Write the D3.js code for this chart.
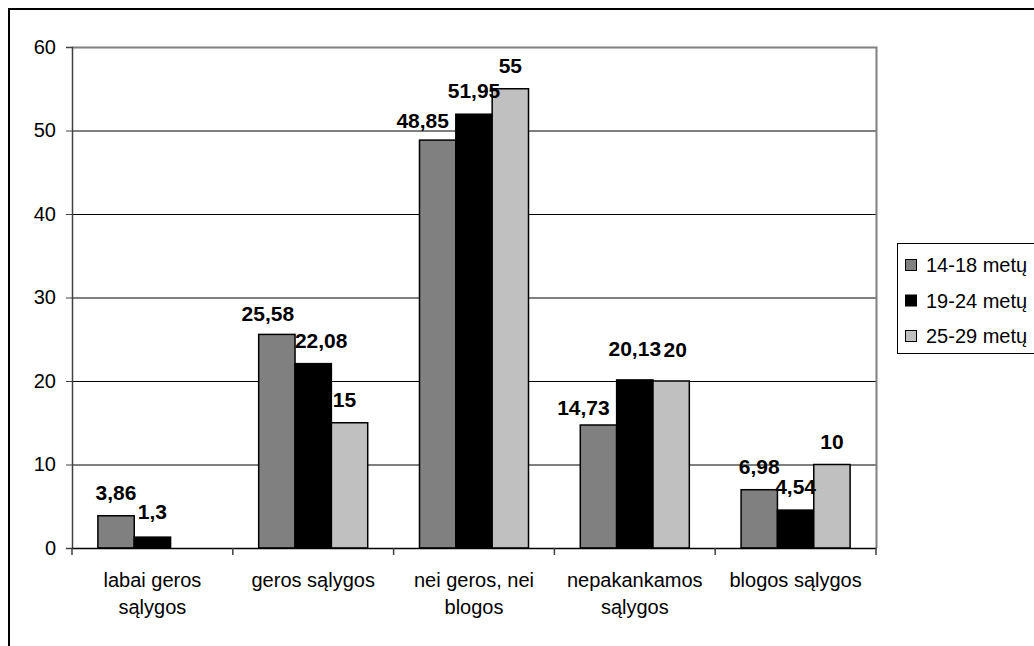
<!DOCTYPE html>
<html>
<head>
<meta charset="utf-8">
<script src="https://cdn.jsdelivr.net/npm/d3@7"></script>
<style>
  html, body { margin: 0; padding: 0; background: #fff; }
  svg { display: block; font-family: "Liberation Sans", Arial, sans-serif; }
</style>
</head>
<body>
<svg id="chart" width="1034" height="646"></svg>
<script>
const categories = ["labai geros sąlygos", "geros sąlygos", "nei geros, nei blogos", "nepakankamos sąlygos", "blogos sąlygos"];
const seriesNames = ["14-18 metų", "19-24 metų", "25-29 metų"];
const s1418 = [3.86, 25.58, 48.85, 14.73, 6.98];
const s1924 = [1.3, 22.08, 51.95, 20.13, 4.54];
const s2529 = [null, 15, 55, 20, 10];
const yTicks = [0, 10, 20, 30, 40, 50, 60];

const seriesValues = [s1418, s1924, s2529];
const colors = ["#808080", "#000000", "#c0c0c0"];
// label nudges mimicking the original's overlap avoidance [series][category] => [dx, dy]
const labelNudge = [
  [[0, 0], [-9, 3], [-15, 4], [-15, 6], [0, 0]],
  [[0, -2], [8, 0], [0, 0], [0, -8], [0, 0]],
  [[0, 0], [-5, 0], [0, 0], [4, -8], [0, 0]]
];

const svg = d3.select("#chart");
const W = 1034, H = 646;
const plot = { left: 72, right: 876, top: 47, bottom: 548 };

// outer frame
svg.append("rect").attr("x", 9).attr("y", 9).attr("width", W + 20).attr("height", H + 20)
  .attr("fill", "none").attr("stroke", "#000").attr("stroke-width", 2);

const x0 = d3.scaleBand().domain(categories).range([plot.left, plot.right]).paddingInner(0).paddingOuter(0);
const x1 = d3.scaleBand().domain(d3.range(seriesNames.length))
  .range([x0.bandwidth() * 0.161, x0.bandwidth() * 0.839]).padding(0);
const y = d3.scaleLinear().domain([0, 60]).range([plot.bottom, plot.top]);

// gridlines
svg.append("g").selectAll("line").data(yTicks.filter(t => t > 0 && t < 60)).join("line")
  .attr("x1", plot.left).attr("x2", plot.right)
  .attr("y1", d => y(d) + 0.5).attr("y2", d => y(d) + 0.5)
  .attr("stroke", "#000").attr("stroke-width", 1);

// plot-area border (top & right, gray)
svg.append("path")
  .attr("d", `M${plot.left},${plot.top + 0.5} H${plot.right + 0.5} V${plot.bottom}`)
  .attr("fill", "none").attr("stroke", "#808080").attr("stroke-width", 2);

// bars
const gBars = svg.append("g");
seriesValues.forEach((vals, si) => {
  gBars.selectAll(null).data(vals.map((v, ci) => ({ v, ci }))).join("rect")
    .filter(d => d.v != null)
    .attr("x", d => x0(categories[d.ci]) + x1(si))
    .attr("y", d => y(d.v))
    .attr("width", x1.bandwidth())
    .attr("height", d => y(0) - y(d.v))
    .attr("fill", colors[si])
    .attr("stroke", "#000").attr("stroke-width", 1.5);
});

// y axis
const yAxis = d3.axisLeft(y).tickValues(yTicks).tickSize(6).tickPadding(10).tickFormat(d3.format("d"));
const gy = svg.append("g").attr("transform", `translate(${plot.left},0)`).call(yAxis);
gy.select(".domain").attr("stroke", "#404040").attr("stroke-width", 1.5);
gy.selectAll(".tick line").attr("stroke", "#404040");
gy.selectAll("text").attr("font-size", 20).attr("fill", "#000")
  .attr("font-family", "'Liberation Sans', Arial, sans-serif");

// x axis
const xAxis = d3.axisBottom(x0).tickSize(0).tickFormat("");
const gx = svg.append("g").attr("transform", `translate(0,${plot.bottom})`).call(xAxis);
gx.select(".domain").attr("stroke", "#000").attr("stroke-width", 1.5);
const boundaries = categories.map(c => x0(c)).concat([plot.right]);
svg.append("g").selectAll("line").data(boundaries).join("line")
  .attr("x1", d => d).attr("x2", d => d)
  .attr("y1", plot.bottom).attr("y2", plot.bottom + 7)
  .attr("stroke", "#404040").attr("stroke-width", 1.5);

// category labels with wrapping
const gCat = svg.append("g").attr("font-size", 20).attr("fill", "#000").attr("text-anchor", "middle");
categories.forEach(c => {
  const cx = x0(c) + x0.bandwidth() / 2;
  const t = gCat.append("text").attr("x", cx).attr("y", 587);
  const words = c.split(" ");
  let line = [];
  let tspan = t.append("tspan").attr("x", cx).attr("dy", 0);
  words.forEach(w => {
    line.push(w);
    tspan.text(line.join(" "));
    if (tspan.node().getComputedTextLength() > 150 && line.length > 1) {
      line.pop();
      tspan.text(line.join(" "));
      line = [w];
      tspan = t.append("tspan").attr("x", cx).attr("dy", 27).text(w);
    }
  });
});

// value labels
const gLab = svg.append("g").attr("font-size", 21).attr("font-weight", "bold")
  .attr("fill", "#000").attr("text-anchor", "middle");
seriesValues.forEach((vals, si) => {
  vals.forEach((v, ci) => {
    if (v == null) return;
    const n = labelNudge[si][ci];
    gLab.append("text")
      .attr("x", x0(categories[ci]) + x1(si) + x1.bandwidth() / 2 + n[0])
      .attr("y", y(v) - 16 + n[1])
      .text(String(v).replace(".", ","));
  });
});

// legend
const lg = svg.append("g");
lg.append("rect").attr("x", 897.5).attr("y", 243.5).attr("width", 160).attr("height", 110)
  .attr("fill", "#fff").attr("stroke", "#000").attr("stroke-width", 1);
seriesNames.forEach((s, i) => {
  const cy = 265 + i * 35.5;
  lg.append("rect").attr("x", 905.5).attr("y", cy - 5.5).attr("width", 11).attr("height", 11)
    .attr("fill", colors[i]).attr("stroke", "#000").attr("stroke-width", 1);
  lg.append("text").attr("x", 926).attr("y", cy + 7).attr("font-size", 20).attr("fill", "#000").text(s);
});
</script>
</body>
</html>
